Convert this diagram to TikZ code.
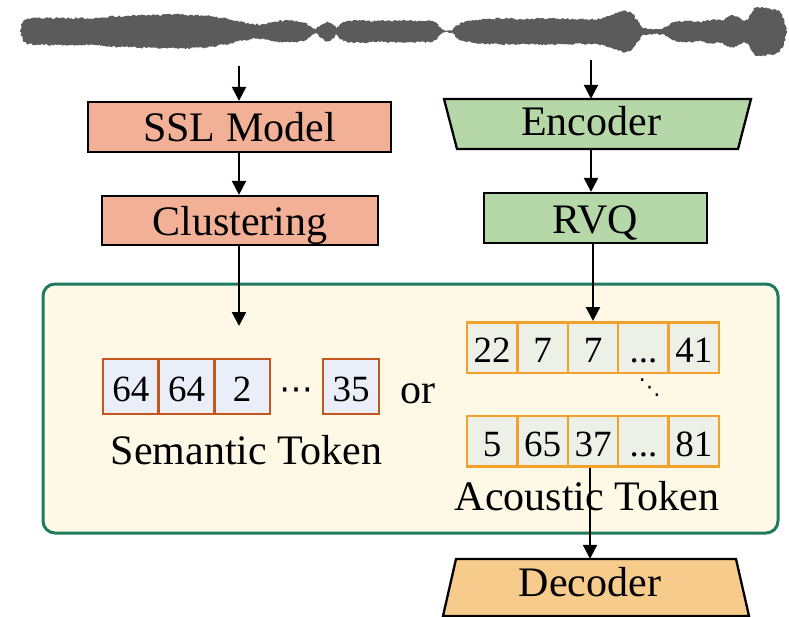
\documentclass[tikz,border=0pt]{standalone}
\usepackage{fontspec}
\setmainfont{Liberation Serif}
\newfontfamily\dotsfont{DejaVu Sans}
\usetikzlibrary{arrows.meta,decorations.pathmorphing}

\definecolor{wavegray}{HTML}{5B5B5B}
\definecolor{sslfill}{HTML}{F2B196}
\definecolor{encfill}{HTML}{B6D7A8}
\definecolor{decfill}{HTML}{F7CB8B}
\definecolor{panelfill}{HTML}{FEF8E6}
\definecolor{panelline}{HTML}{1E7B5E}
\definecolor{semfill}{HTML}{E9EEF8}
\definecolor{semline}{HTML}{C4561E}
\definecolor{acofill}{HTML}{ECF0E7}
\definecolor{acoline}{HTML}{F2A12A}

\begin{document}
\begin{tikzpicture}[x=1pt,y=-1pt,
  big/.style={font=\fontsize{42}{48}\selectfont, text height=28pt, text depth=0pt, inner sep=0pt},
  numfont/.style={font=\fontsize{37}{42}\selectfont, text height=30.4pt, text depth=0pt, inner sep=0pt},
  stage/.style={big, draw=black, line width=2.3pt},
  arr/.style={draw=black, line width=2.3pt, -{Triangle[length=14pt,width=14pt]}},
  semtok/.style={numfont, draw=semline, fill=semfill, line width=2.5pt, minimum width=55.67pt, minimum height=55pt},
  acotok/.style={numfont, draw=acoline, fill=acofill, line width=2.5pt, minimum width=50.4pt, minimum height=50.5pt},
  panel/.style={draw=panelline, fill=panelfill, line width=3pt, rounded corners=12pt, inner sep=0pt}
]
\useasboundingbox (0,0) rectangle (789,616);

% speech waveform envelope
\pgfmathsetseed{7}
\fill[wavegray, decorate, decoration={random steps, segment length=1.6pt, amplitude=1pt}]
  (20,31.5) -- (23,21.5) -- (28,18.5) -- (60,18) -- (90,18.5) -- (110,16.5) -- (140,15.5) -- (175,14.5)
  -- (205,15.5) -- (230,19.5) -- (250,24) -- (262,24.5) -- (275,21.5) -- (290,20.5) -- (305,22.5) -- (313,28.5)
  -- (316,30) -- (320,25.5) -- (327,21.5) -- (333,24.5) -- (337,28.5) -- (341,23.5) -- (350,20.5) -- (380,21)
  -- (400,20.5) -- (420,21) -- (430,20.5) -- (437,23.5) -- (442,29.5) -- (445,30.8) -- (452,30.8) -- (456,25.5)
  -- (465,21.5) -- (480,19.5) -- (500,18.5) -- (520,19) -- (550,18.5) -- (575,19) -- (595,19.5) -- (605,17.5)
  -- (615,13.5) -- (625,10.5) -- (632,13.5) -- (638,21.5) -- (643,28.5) -- (650,29) -- (662,29) -- (668,25.5)
  -- (673,22.5) -- (685,20.5) -- (700,22) -- (712,19.5) -- (722,20.5) -- (730,15.5) -- (737,16.5) -- (743,20.5)
  -- (748,19.5) -- (755,7.5) -- (762,7) -- (770,8.5) -- (776,9.5) -- (780,11.5) -- (784,19.5) -- (786,27.5) -- (787,31.5)
  -- (786,35.5) -- (784,43.5) -- (780,51.5) -- (776,53.5) -- (770,54.5) -- (762,56) -- (755,55.5)
  -- (748,43.5) -- (743,42.5) -- (737,46.5) -- (730,47.5) -- (722,42.5) -- (712,43.5) -- (700,41) -- (685,42.5)
  -- (673,40.5) -- (668,37.5) -- (662,34) -- (650,34) -- (643,34.5) -- (638,41.5) -- (632,49.5) -- (625,52.5)
  -- (615,49.5) -- (605,45.5) -- (595,43.5) -- (575,44) -- (550,44.5) -- (520,44) -- (500,44.5) -- (480,43.5)
  -- (465,41.5) -- (456,37.5) -- (452,32.2) -- (445,32.2) -- (442,33.5) -- (437,39.5) -- (430,42.5) -- (420,42)
  -- (400,42.5) -- (380,42) -- (350,42.5) -- (341,39.5) -- (337,34.5) -- (333,38.5) -- (327,41.5) -- (320,37.5)
  -- (316,33) -- (313,34.5) -- (305,40.5) -- (290,42.5) -- (275,41.5) -- (262,38.5) -- (250,39) -- (230,43.5)
  -- (205,47.5) -- (175,48.5) -- (140,47.5) -- (110,46.5) -- (90,44.5) -- (60,45) -- (28,44.5) -- (23,41.5)
  -- cycle;

% token panel
\node[panel, minimum width=735pt, minimum height=249pt] (panel) at (410.5,408.5) {};

% semantic branch
\coordinate (wl) at (239,66);
\node[stage, fill=sslfill, minimum width=303pt, minimum height=50pt] (ssl) at (239.5,127) {SSL Model};
\node[stage, fill=sslfill, minimum width=276pt, minimum height=49pt, text height=30pt] (clu) at (240,220.5) {Clustering};
\coordinate (semin) at (239,326);

% acoustic branch
\coordinate (wr) at (591,60);
\fill[encfill, draw=black, line width=2.3pt, line join=miter] (444,99) -- (751,99) -- (738,149) -- (457,149) -- cycle;
\node[big, minimum height=50pt, text depth=6pt] (enc) at (591,124) {Encoder};
\node[stage, fill=encfill, minimum width=223pt, minimum height=50pt, text height=30pt] (rvq) at (595.5,218) {RVQ};

% semantic tokens
\node[semtok] (s1) at (130.83,386.5) {64};
\node[semtok] (s2) at (186.5,386.5) {64};
\node[semtok] (s3) at (242.17,386.5) {2};
\node[font=\dotsfont\fontsize{34}{40}\selectfont, inner sep=0pt] (sdots) at (296,394) {⋯};
\node[semtok, minimum width=56pt] (s4) at (351,386.5) {35};
\node[big] (or) at (417.5,389.5) {or};
\node[big] (semlab) at (246.5,450.5) {Semantic Token};

% acoustic tokens
\node[acotok] (a11) at (492.2,347.5) {22};
\node[acotok] (a12) at (542.6,347.5) {7};
\node[acotok] (a13) at (593,347.5) {7};
\node[acotok] (a14) at (643.4,347.5) {...};
\node[acotok] (a15) at (693.8,347.5) {41};
\node[font=\dotsfont\fontsize{22}{24}\selectfont, inner sep=0pt] (vdots) at (649.5,388) {⋱};
\node[acotok] (a21) at (492.2,441) {5};
\node[acotok] (a22) at (542.6,441) {65};
\node[acotok] (a23) at (593,441) {37};
\node[acotok] (a24) at (643.4,441) {...};
\node[acotok] (a25) at (693.8,441) {81};
\node[big] (acolab) at (587,496.5) {Acoustic Token};

% decoder
\fill[decfill, draw=black, line width=2.3pt, line join=miter] (456,559) -- (736,559) -- (749,616) -- (443,616) -- cycle;
\node[big, minimum height=55pt, text depth=9pt] (dec) at (590,586.5) {Decoder};

% connectors
\draw[arr] (wl) -- (wl |- ssl.north);
\draw[arr] (ssl.south -| wl) -- (clu.north -| wl);
\draw[arr] (clu.south -| wl) -- (semin);
\draw[arr] (wr) -- (wr |- enc.north);
\draw[arr] (enc.south -| wr) -- (rvq.north -| wr);
\draw[arr] (rvq.south -| a13) -- (a13.north);
\draw[arr] (a23.south -| dec) -- (dec.north);
\end{tikzpicture}
\end{document}
